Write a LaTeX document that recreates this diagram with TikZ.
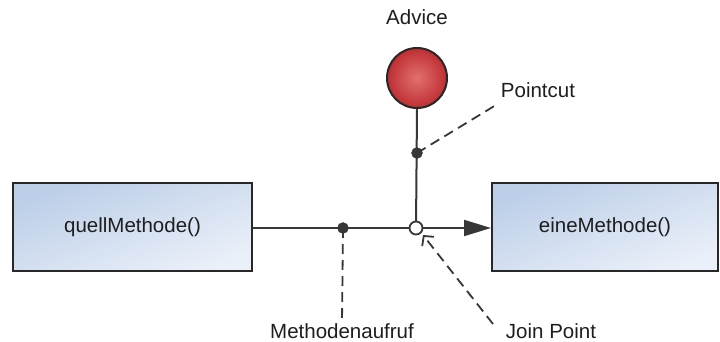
\documentclass[tikz,border=0pt]{standalone}
\usepackage{fontspec}
\setmainfont{Liberation Sans}
\usetikzlibrary{arrows.meta}
\definecolor{boxtop}{RGB}{188,206,232}
\definecolor{boxbot}{RGB}{234,240,249}
\definecolor{edge}{RGB}{40,40,40}
\definecolor{linec}{RGB}{55,55,55}
\definecolor{redin}{RGB}{226,112,112}
\definecolor{redout}{RGB}{190,46,50}
\definecolor{txt}{RGB}{30,30,30}
\begin{document}
\begin{tikzpicture}[x=1pt,y=-1pt,
  mbox/.style={draw=edge,line width=2pt,minimum height=88pt,inner sep=0pt,
    top color=boxtop,bottom color=boxbot,shading angle=20,
    font=\fontsize{20.5}{24}\selectfont,text=txt},
  lbl/.style={font=\fontsize{20.5}{24}\selectfont,text=txt,inner sep=1pt},
  conn/.style={draw=linec,line width=2pt},
  dsh/.style={draw=linec,line width=1.8pt,dash pattern=on 10pt off 6pt},
  fdot/.style={circle,fill=linec,draw=linec,minimum size=11pt,inner sep=0pt},
  odot/.style={circle,fill=white,draw=linec,line width=1.8pt,minimum size=13pt,inner sep=0pt}]
\useasboundingbox (0,0) rectangle (720,342);
\node[mbox,minimum width=239pt] (q) at (132.5,227) {quellMethode()};
\node[mbox,minimum width=226pt] (e) at (605,227) {eineMethode()};
\node[circle,draw=edge,line width=2pt,minimum size=60pt,inner sep=0pt,
  inner color=redin,outer color=redout] (adv) at (417,78) {};
\node[lbl] (advl) at (417,17) {Advice};
\node[lbl] (pcl) at (538,90) {Pointcut};
\node[lbl] (mal) at (342,331) {Methodenaufruf};
\node[lbl] (jpl) at (551,331) {Join Point};
\coordinate (mc) at (343,228);
\coordinate (jp) at (416,228);
\coordinate (pc) at (417,153);
\coordinate (pcend) at (496,105);
\coordinate (jpstart) at (493,324);
\coordinate (jptip) at (423,235);
\draw[conn,-{Triangle[length=27pt,width=16pt]}] (q.east |- mc) -- (e.west |- mc);
\draw[conn] (adv.south) -- (jp);
\draw[dsh] (mc) -- (mal.north);
\draw[dsh] (pc) -- (pcend);
\draw[dsh,-{Straight Barb[length=7pt,width=15pt,line width=1.8pt]}] (jpstart) -- (jptip);
\node[fdot] (mcd) at (mc) {};
\node[fdot] (pcd) at (pc) {};
\node[odot] (jpd) at (jp) {};
\end{tikzpicture}
\end{document}
